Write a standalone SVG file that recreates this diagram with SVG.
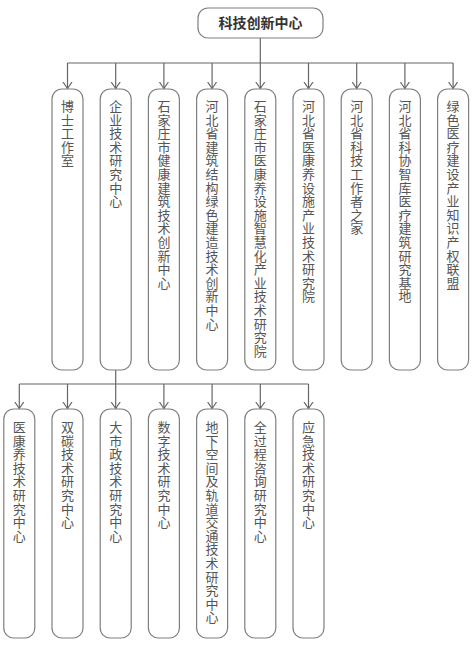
<svg xmlns="http://www.w3.org/2000/svg" width="473" height="663" viewBox="0 0 473 663">
<style>
.box{fill:#ffffff;stroke:#7f7f7f;stroke-width:1.2}
.lbl{font-family:"Noto Sans CJK SC","Liberation Sans",sans-serif;font-size:13px;fill:#555555;writing-mode:vertical-rl;text-orientation:upright;letter-spacing:0.6px}
.title{font-family:"Noto Sans CJK SC","Liberation Sans",sans-serif;font-size:14px;font-weight:bold;fill:#333333;text-anchor:middle}
.ln{fill:none;stroke:#666666;stroke-width:1.2}
</style>
<defs>
<marker id="arr" markerUnits="userSpaceOnUse" markerWidth="10" markerHeight="12" refX="7" refY="5" orient="auto" viewBox="0 0 10 10">
<path d="M0.5,0.5 L7,5 L0.5,9.5" fill="none" stroke="#666666" stroke-width="1.2"/>
</marker>
</defs>
<g id="connectors">
<path class="ln" d="M260.3,38 V63 M67.5,63 H453.1"/>
<path class="ln" d="M67.5,63 V88.5" marker-end="url(#arr)"/>
<path class="ln" d="M115.7,63 V88.5" marker-end="url(#arr)"/>
<path class="ln" d="M163.9,63 V88.5" marker-end="url(#arr)"/>
<path class="ln" d="M212.1,63 V88.5" marker-end="url(#arr)"/>
<path class="ln" d="M260.3,63 V88.5" marker-end="url(#arr)"/>
<path class="ln" d="M308.5,63 V88.5" marker-end="url(#arr)"/>
<path class="ln" d="M356.7,63 V88.5" marker-end="url(#arr)"/>
<path class="ln" d="M404.9,63 V88.5" marker-end="url(#arr)"/>
<path class="ln" d="M453.1,63 V88.5" marker-end="url(#arr)"/>
<path class="ln" d="M115.7,370 V384 M19.3,384 H308.5"/>
<path class="ln" d="M19.3,384 V408.5" marker-end="url(#arr)"/>
<path class="ln" d="M67.5,384 V408.5" marker-end="url(#arr)"/>
<path class="ln" d="M115.7,384 V408.5" marker-end="url(#arr)"/>
<path class="ln" d="M163.9,384 V408.5" marker-end="url(#arr)"/>
<path class="ln" d="M212.1,384 V408.5" marker-end="url(#arr)"/>
<path class="ln" d="M260.3,384 V408.5" marker-end="url(#arr)"/>
<path class="ln" d="M308.5,384 V408.5" marker-end="url(#arr)"/>
</g>
<g id="root">
<rect class="box" x="198" y="8" width="125" height="30" rx="10"/>
<text class="title" x="260.5" y="28">科技创新中心</text>
</g>
<g id="n1"><rect class="box" x="52" y="89" width="31" height="281" rx="10"/>
<text class="lbl" x="67.5" y="99.6">博士工作室</text></g>
<g id="n2"><rect class="box" x="100.2" y="89" width="31" height="281" rx="10"/>
<text class="lbl" x="115.7" y="99.6">企业技术研究中心</text></g>
<g id="n3"><rect class="box" x="148.4" y="89" width="31" height="281" rx="10"/>
<text class="lbl" x="163.9" y="99.6">石家庄市健康建筑技术创新中心</text></g>
<g id="n4"><rect class="box" x="196.6" y="89" width="31" height="281" rx="10"/>
<text class="lbl" x="212.1" y="99.6">河北省建筑结构绿色建造技术创新中心</text></g>
<g id="n5"><rect class="box" x="244.8" y="89" width="31" height="281" rx="10"/>
<text class="lbl" x="260.3" y="99.6">石家庄市医康养设施智慧化产业技术研究院</text></g>
<g id="n6"><rect class="box" x="293" y="89" width="31" height="281" rx="10"/>
<text class="lbl" x="308.5" y="99.6">河北省医康养设施产业技术研究院</text></g>
<g id="n7"><rect class="box" x="341.2" y="89" width="31" height="281" rx="10"/>
<text class="lbl" x="356.7" y="99.6">河北省科技工作者之家</text></g>
<g id="n8"><rect class="box" x="389.4" y="89" width="31" height="281" rx="10"/>
<text class="lbl" x="404.9" y="99.6">河北省科协智库医疗建筑研究基地</text></g>
<g id="n9"><rect class="box" x="437.6" y="89" width="31" height="281" rx="10"/>
<text class="lbl" x="453.1" y="99.6">绿色医疗建设产业知识产权联盟</text></g>
<g id="m1"><rect class="box" x="3.8" y="409" width="31" height="229" rx="10"/>
<text class="lbl" x="19.3" y="420.6">医康养技术研究中心</text></g>
<g id="m2"><rect class="box" x="52" y="409" width="31" height="229" rx="10"/>
<text class="lbl" x="67.5" y="420.6">双碳技术研究中心</text></g>
<g id="m3"><rect class="box" x="100.2" y="409" width="31" height="229" rx="10"/>
<text class="lbl" x="115.7" y="420.6">大市政技术研究中心</text></g>
<g id="m4"><rect class="box" x="148.4" y="409" width="31" height="229" rx="10"/>
<text class="lbl" x="163.9" y="420.6">数字技术研究中心</text></g>
<g id="m5"><rect class="box" x="196.6" y="409" width="31" height="229" rx="10"/>
<text class="lbl" x="212.1" y="420.6">地下空间及轨道交通技术研究中心</text></g>
<g id="m6"><rect class="box" x="244.8" y="409" width="31" height="229" rx="10"/>
<text class="lbl" x="260.3" y="420.6">全过程咨询研究中心</text></g>
<g id="m7"><rect class="box" x="293" y="409" width="31" height="229" rx="10"/>
<text class="lbl" x="308.5" y="420.6">应急技术研究中心</text></g>
</svg>
